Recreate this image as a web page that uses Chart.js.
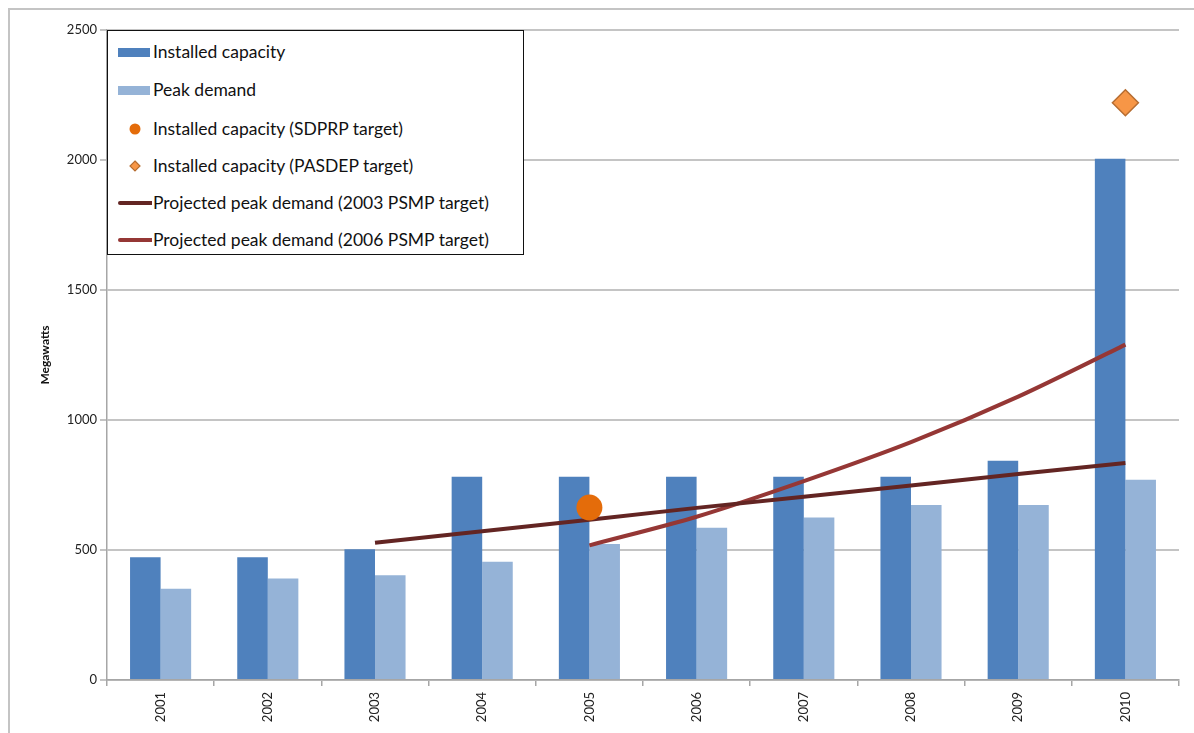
<!DOCTYPE html>
<html>
<head>
<meta charset="utf-8">
<script src="https://cdn.jsdelivr.net/npm/chart.js@4.4.1/dist/chart.umd.min.js"></script>
<style>
    html, body { margin: 0; padding: 0; background: #fff; }
    #wrap { position: relative; width: 1194px; height: 733px; overflow: hidden; }
    #frame { position: absolute; left: 8px; top: 8px; right: -4px; bottom: -4px;
             border-left: 2px solid #c4c4c4; border-top: 2px solid #c4c4c4; }
    #legend { position: absolute; left: 107px; top: 30px; width: 415px; height: 223px;
              background: #fff; border: 1.5px solid #111; font-family: Lato, "Open Sans", sans-serif;
              font-size: 17.5px; color: #111; }
    #legend .row { position: absolute; left: 0; height: 20px; line-height: 20px; white-space: nowrap; }
    #legend .mark { position: absolute; left: 10px; top: 0; width: 34px; height: 20px; }
    #legend .txt { position: absolute; left: 45px; top: 0; }
</style>
</head>
<body>
<div id="wrap">
    <div id="frame"></div>
    <canvas id="chart" width="1194" height="733"></canvas>
    <div id="legend"></div>
</div>
<script>
var years = ["2001", "2002", "2003", "2004", "2005", "2006", "2007", "2008", "2009", "2010"];
var installedCapacity = [472, 472, 503, 782, 782, 782, 782, 782, 843, 2005];
var peakDemand = [351, 390, 403, 455, 523, 586, 625, 673, 673, 770];
var sdprpTarget = [null, null, null, null, 663, null, null, null, null, null];
var pasdepTarget = [null, null, null, null, null, null, null, null, null, 2220];
var psmp2003 = [null, null, 528, 572, 616, 662, 705, 748, 792, 835];
var psmp2006 = [null, null, null, null, 518, 628, 765, 915, 1090, 1290];
var yTicks = [0, 500, 1000, 1500, 2000, 2500];

var tickFont = { family: "Lato, 'Open Sans', sans-serif", size: 13 };

var datasets = [
    { type: "bar", label: "Installed capacity", data: installedCapacity,
      backgroundColor: "#4f81bd", order: 2, categoryPercentage: 0.57, barPercentage: 1.0 },
    { type: "bar", label: "Peak demand", data: peakDemand,
      backgroundColor: "#95b3d7", order: 2, categoryPercentage: 0.57, barPercentage: 1.0 },
    { type: "line", label: "Installed capacity (SDPRP target)", data: sdprpTarget,
      showLine: false, pointStyle: "circle", pointRadius: 13, backgroundColor: "#e46c0a",
      borderColor: "#e46c0a", borderWidth: 0, order: 0 },
    { type: "line", label: "Installed capacity (PASDEP target)", data: pasdepTarget,
      showLine: false, pointStyle: "rectRot", pointRadius: 13, backgroundColor: "#f79646",
      borderColor: "#b66d31", pointBorderWidth: 1.5, order: 0 },
    { type: "line", label: "Projected peak demand (2003 PSMP target)", data: psmp2003,
      borderColor: "#632523", borderWidth: 4, pointRadius: 0, tension: 0, order: 1 },
    { type: "line", label: "Projected peak demand (2006 PSMP target)", data: psmp2006,
      borderColor: "#953735", borderWidth: 4, pointRadius: 0, tension: 0.3, order: 1 }
];

var chart = new Chart(document.getElementById("chart"), {
    data: { labels: years, datasets: datasets },
    options: {
        responsive: false,
        animation: false,
        layout: { padding: { left: 8, top: 30, right: 15, bottom: 0 } },
        plugins: { legend: { display: false }, tooltip: { enabled: false } },
        scales: {
            x: {
                grid: { offset: true, drawOnChartArea: false, drawTicks: true, tickLength: 6,
                        color: "#a6a6a6", lineWidth: 1.5 },
                border: { color: "#a6a6a6", width: 1.5 },
                ticks: { font: tickFont, color: "#222", minRotation: 90, maxRotation: 90, padding: 6 },
                afterFit: function (s) { s.height = 53; }
            },
            y: {
                min: 0, max: 2500,
                afterBuildTicks: function (s) { s.ticks = yTicks.map(function (v) { return { value: v }; }); },
                grid: { color: "#c4c4c4", lineWidth: 2, tickLength: 7 },
                border: { color: "#a6a6a6", width: 1.5 },
                ticks: { font: tickFont, color: "#222", padding: 3,
                         callback: function (v) { return String(v); } },
                title: { display: true, text: "Megawatts", color: "#111",
                         font: { family: "Lato, 'Open Sans', sans-serif", size: 12, weight: "bold" },
                         padding: { top: 30, bottom: 0 } },
                afterFit: function (s) { s.width = 99; }
            }
        }
    }
});

// legend box built from the dataset list
(function () {
    var legend = document.getElementById("legend");
    var rowTops = [11, 49, 88, 125, 162, 199];
    chart.data.datasets.forEach(function (ds, i) {
        var row = document.createElement("div");
        row.className = "row";
        row.style.top = rowTops[i] + "px";
        var mark = document.createElement("canvas");
        mark.className = "mark";
        mark.width = 34; mark.height = 20;
        var c = mark.getContext("2d");
        if (ds.type === "bar") {
            c.fillStyle = ds.backgroundColor;
            c.fillRect(0, 6, 32, 9);
        } else if (ds.showLine === false && ds.pointStyle === "circle") {
            c.fillStyle = ds.backgroundColor;
            c.beginPath(); c.arc(17, 10, 5.5, 0, Math.PI * 2); c.fill();
        } else if (ds.showLine === false) {
            c.fillStyle = ds.backgroundColor;
            c.strokeStyle = ds.borderColor;
            c.lineWidth = 1.2;
            c.beginPath(); c.moveTo(17, 5); c.lineTo(22, 10); c.lineTo(17, 15); c.lineTo(12, 10); c.closePath();
            c.fill(); c.stroke();
        } else {
            c.strokeStyle = ds.borderColor;
            c.lineWidth = 4;
            c.lineCap = "round";
            c.beginPath(); c.moveTo(2, 10); c.lineTo(34, 10); c.stroke();
        }
        row.appendChild(mark);
        var txt = document.createElement("span");
        txt.className = "txt";
        txt.textContent = ds.label;
        row.appendChild(txt);
        legend.appendChild(row);
    });
})();
</script>
</body>
</html>
